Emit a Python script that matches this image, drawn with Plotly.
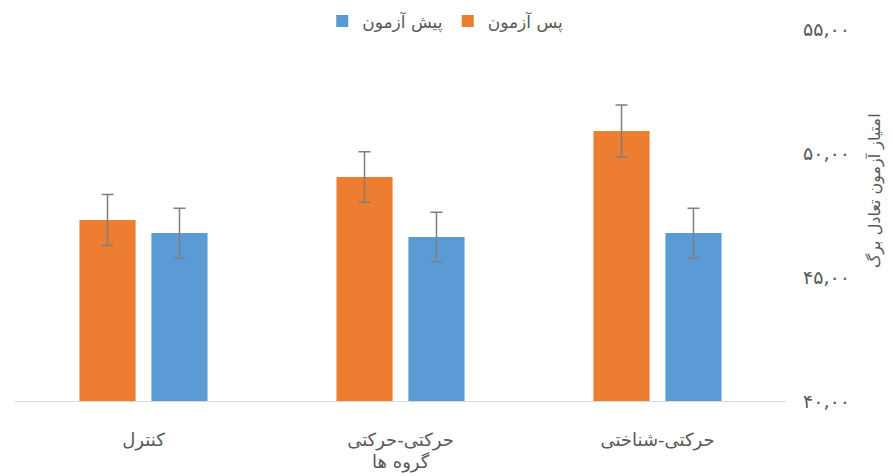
import plotly.graph_objects as go

categories = ["حرکتی-شناختی", "حرکتی-حرکتی", "کنترل"]
pre_test = [46.77, 46.61, 46.77]
pre_err = [1.0, 1.0, 1.0]
post_test = [50.89, 49.03, 47.30]
post_err = [1.05, 1.02, 1.03]
series_names = ["پیش آزمون", "پس آزمون"]
y_ticks = [40, 45, 50, 55]
y_tick_labels = ["۴۰,۰۰", "۴۵,۰۰", "۵۰,۰۰", "۵۵,۰۰"]
x_title = "گروه ها"
y_title = "امتیاز آزمون تعادل برگ"

font_family = "DejaVu Sans"
text_color = "#595959"
err_style = dict(type="data", visible=True, color="#7f7f7f", thickness=1.5, width=6)

fig = go.Figure()
fig.add_trace(go.Bar(
    x=categories, y=pre_test, name=series_names[0],
    marker=dict(color="#5B9BD5", line=dict(width=0)),
    error_y=dict(array=pre_err, **err_style),
))
fig.add_trace(go.Bar(
    x=categories, y=post_test, name=series_names[1],
    marker=dict(color="#ED7D31", line=dict(width=0)),
    error_y=dict(array=post_err, **err_style),
))

fig.update_layout(
    width=885, height=468,
    margin=dict(l=7, r=107, t=21, b=75, autoexpand=False),
    paper_bgcolor="white", plot_bgcolor="white",
    barmode="group", bargap=0.44, bargroupgap=0.22,
    font=dict(family=font_family, color=text_color, size=14),
    showlegend=True,
    legend=dict(orientation="h", x=0.558, xref="paper", xanchor="center",
                y=1.02, yref="paper", yanchor="middle",
                font=dict(size=17, color=text_color), traceorder="normal",
                itemwidth=30),
    xaxis=dict(autorange="reversed", showgrid=False, showline=True, automargin=False,
               linecolor="#d9d9d9", linewidth=1, ticks="", ticklabelstandoff=22,
               tickfont=dict(size=18, color=text_color)),
    yaxis=dict(side="right", range=[40, 55], tickvals=y_ticks, ticktext=y_tick_labels,
               showgrid=False, zeroline=False, showline=False, ticks="", automargin=False,
               ticklabelstandoff=16,
               tickfont=dict(size=19, color=text_color)),
    annotations=[
        dict(text=x_title, xref="paper", yref="paper", x=0.5, y=-0.164,
             xanchor="center", yanchor="middle", showarrow=False,
             font=dict(size=18, color=text_color)),
        dict(text=y_title, xref="paper", yref="paper", x=1.1154, y=0.567,
             xanchor="center", yanchor="middle", showarrow=False, textangle=-90,
             font=dict(size=16, color=text_color)),
    ],
)

fig.write_html("out.html")
